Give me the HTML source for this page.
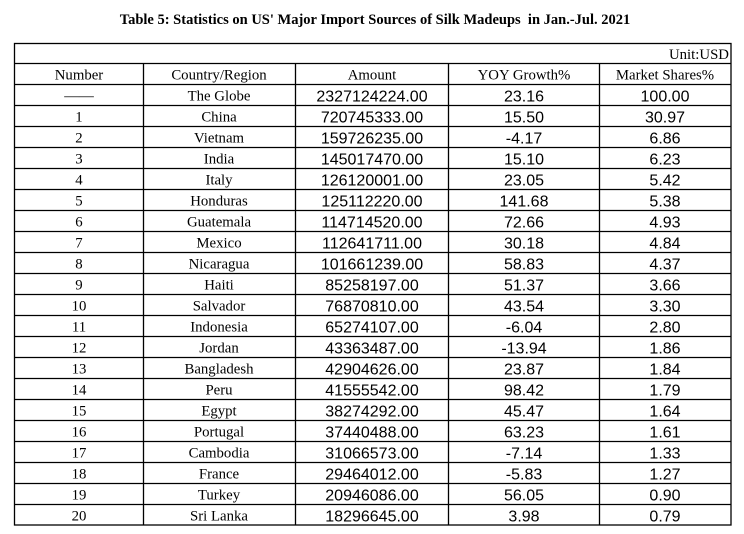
<!DOCTYPE html>
<html><head><meta charset="utf-8"><style>
html,body{margin:0;padding:0;background:#fff;width:744px;height:534px;overflow:hidden}
svg{display:block}
.s{font-family:"Liberation Serif",serif;font-size:14.8px;fill:#000;text-anchor:middle}
.n{font-family:"Liberation Sans",sans-serif;font-size:16px;fill:#000;text-anchor:middle}
.l{stroke:#000;stroke-width:1.3}
</style></head><body>
<svg width="744" height="534" xmlns="http://www.w3.org/2000/svg">
<text x="375" y="24" text-anchor="middle" font-family="Liberation Serif, serif" font-weight="bold" font-size="14.5">Table 5: Statistics on US' Major Import Sources of Silk Madeups&#160; in Jan.-Jul. 2021</text>
<g stroke="#000" stroke-width="1.3" fill="none">
<rect x="14.5" y="43.5" width="716.5" height="481.5"/>
<line x1="14.5" y1="63.5" x2="731" y2="63.5"/>
<line x1="143.5" y1="63.5" x2="143.5" y2="525"/>
<line x1="295.5" y1="63.5" x2="295.5" y2="525"/>
<line x1="448.5" y1="63.5" x2="448.5" y2="525"/>
<line x1="599.5" y1="63.5" x2="599.5" y2="525"/>
</g>
<text x="729" y="59" font-family="Liberation Serif, serif" font-size="14.8" text-anchor="end">Unit:USD</text>

<g transform="translate(0,63.5)"><text class="s" x="79" y="16">Number</text><text class="s" x="219" y="16">Country/Region</text><text class="s" x="372" y="16">Amount</text><text class="s" x="524" y="16">YOY Growth%</text><text class="s" x="665" y="16">Market Shares%</text></g>

<g transform="translate(0,84.5)"><line class="l" x1="14.5" x2="731" y1="0" y2="0"/><text class="s" x="79" y="16">——</text><text class="s" x="219" y="16">The Globe</text><text class="n" x="372" y="17">2327124224.00</text><text class="n" x="524" y="17">23.16</text><text class="n" x="665" y="17">100.00</text></g>
<g transform="translate(0,105.5)"><line class="l" x1="14.5" x2="731" y1="0" y2="0"/><text class="s" x="79" y="16">1</text><text class="s" x="219" y="16">China</text><text class="n" x="372" y="17">720745333.00</text><text class="n" x="524" y="17">15.50</text><text class="n" x="665" y="17">30.97</text></g>
<g transform="translate(0,126.5)"><line class="l" x1="14.5" x2="731" y1="0" y2="0"/><text class="s" x="79" y="16">2</text><text class="s" x="219" y="16">Vietnam</text><text class="n" x="372" y="17">159726235.00</text><text class="n" x="524" y="17">-4.17</text><text class="n" x="665" y="17">6.86</text></g>
<g transform="translate(0,147.5)"><line class="l" x1="14.5" x2="731" y1="0" y2="0"/><text class="s" x="79" y="16">3</text><text class="s" x="219" y="16">India</text><text class="n" x="372" y="17">145017470.00</text><text class="n" x="524" y="17">15.10</text><text class="n" x="665" y="17">6.23</text></g>
<g transform="translate(0,168.5)"><line class="l" x1="14.5" x2="731" y1="0" y2="0"/><text class="s" x="79" y="16">4</text><text class="s" x="219" y="16">Italy</text><text class="n" x="372" y="17">126120001.00</text><text class="n" x="524" y="17">23.05</text><text class="n" x="665" y="17">5.42</text></g>
<g transform="translate(0,189.5)"><line class="l" x1="14.5" x2="731" y1="0" y2="0"/><text class="s" x="79" y="16">5</text><text class="s" x="219" y="16">Honduras</text><text class="n" x="372" y="17">125112220.00</text><text class="n" x="524" y="17">141.68</text><text class="n" x="665" y="17">5.38</text></g>
<g transform="translate(0,210.5)"><line class="l" x1="14.5" x2="731" y1="0" y2="0"/><text class="s" x="79" y="16">6</text><text class="s" x="219" y="16">Guatemala</text><text class="n" x="372" y="17">114714520.00</text><text class="n" x="524" y="17">72.66</text><text class="n" x="665" y="17">4.93</text></g>
<g transform="translate(0,231.5)"><line class="l" x1="14.5" x2="731" y1="0" y2="0"/><text class="s" x="79" y="16">7</text><text class="s" x="219" y="16">Mexico</text><text class="n" x="372" y="17">112641711.00</text><text class="n" x="524" y="17">30.18</text><text class="n" x="665" y="17">4.84</text></g>
<g transform="translate(0,252.5)"><line class="l" x1="14.5" x2="731" y1="0" y2="0"/><text class="s" x="79" y="16">8</text><text class="s" x="219" y="16">Nicaragua</text><text class="n" x="372" y="17">101661239.00</text><text class="n" x="524" y="17">58.83</text><text class="n" x="665" y="17">4.37</text></g>
<g transform="translate(0,273.5)"><line class="l" x1="14.5" x2="731" y1="0" y2="0"/><text class="s" x="79" y="16">9</text><text class="s" x="219" y="16">Haiti</text><text class="n" x="372" y="17">85258197.00</text><text class="n" x="524" y="17">51.37</text><text class="n" x="665" y="17">3.66</text></g>
<g transform="translate(0,294.5)"><line class="l" x1="14.5" x2="731" y1="0" y2="0"/><text class="s" x="79" y="16">10</text><text class="s" x="219" y="16">Salvador</text><text class="n" x="372" y="17">76870810.00</text><text class="n" x="524" y="17">43.54</text><text class="n" x="665" y="17">3.30</text></g>
<g transform="translate(0,315.5)"><line class="l" x1="14.5" x2="731" y1="0" y2="0"/><text class="s" x="79" y="16">11</text><text class="s" x="219" y="16">Indonesia</text><text class="n" x="372" y="17">65274107.00</text><text class="n" x="524" y="17">-6.04</text><text class="n" x="665" y="17">2.80</text></g>
<g transform="translate(0,336.5)"><line class="l" x1="14.5" x2="731" y1="0" y2="0"/><text class="s" x="79" y="16">12</text><text class="s" x="219" y="16">Jordan</text><text class="n" x="372" y="17">43363487.00</text><text class="n" x="524" y="17">-13.94</text><text class="n" x="665" y="17">1.86</text></g>
<g transform="translate(0,357.5)"><line class="l" x1="14.5" x2="731" y1="0" y2="0"/><text class="s" x="79" y="16">13</text><text class="s" x="219" y="16">Bangladesh</text><text class="n" x="372" y="17">42904626.00</text><text class="n" x="524" y="17">23.87</text><text class="n" x="665" y="17">1.84</text></g>
<g transform="translate(0,378.5)"><line class="l" x1="14.5" x2="731" y1="0" y2="0"/><text class="s" x="79" y="16">14</text><text class="s" x="219" y="16">Peru</text><text class="n" x="372" y="17">41555542.00</text><text class="n" x="524" y="17">98.42</text><text class="n" x="665" y="17">1.79</text></g>
<g transform="translate(0,399.5)"><line class="l" x1="14.5" x2="731" y1="0" y2="0"/><text class="s" x="79" y="16">15</text><text class="s" x="219" y="16">Egypt</text><text class="n" x="372" y="17">38274292.00</text><text class="n" x="524" y="17">45.47</text><text class="n" x="665" y="17">1.64</text></g>
<g transform="translate(0,420.5)"><line class="l" x1="14.5" x2="731" y1="0" y2="0"/><text class="s" x="79" y="16">16</text><text class="s" x="219" y="16">Portugal</text><text class="n" x="372" y="17">37440488.00</text><text class="n" x="524" y="17">63.23</text><text class="n" x="665" y="17">1.61</text></g>
<g transform="translate(0,441.5)"><line class="l" x1="14.5" x2="731" y1="0" y2="0"/><text class="s" x="79" y="16">17</text><text class="s" x="219" y="16">Cambodia</text><text class="n" x="372" y="17">31066573.00</text><text class="n" x="524" y="17">-7.14</text><text class="n" x="665" y="17">1.33</text></g>
<g transform="translate(0,462.5)"><line class="l" x1="14.5" x2="731" y1="0" y2="0"/><text class="s" x="79" y="16">18</text><text class="s" x="219" y="16">France</text><text class="n" x="372" y="17">29464012.00</text><text class="n" x="524" y="17">-5.83</text><text class="n" x="665" y="17">1.27</text></g>
<g transform="translate(0,483.5)"><line class="l" x1="14.5" x2="731" y1="0" y2="0"/><text class="s" x="79" y="16">19</text><text class="s" x="219" y="16">Turkey</text><text class="n" x="372" y="17">20946086.00</text><text class="n" x="524" y="17">56.05</text><text class="n" x="665" y="17">0.90</text></g>
<g transform="translate(0,504.5)"><line class="l" x1="14.5" x2="731" y1="0" y2="0"/><text class="s" x="79" y="16">20</text><text class="s" x="219" y="16">Sri Lanka</text><text class="n" x="372" y="17">18296645.00</text><text class="n" x="524" y="17">3.98</text><text class="n" x="665" y="17">0.79</text></g>
</svg>
</body></html>
